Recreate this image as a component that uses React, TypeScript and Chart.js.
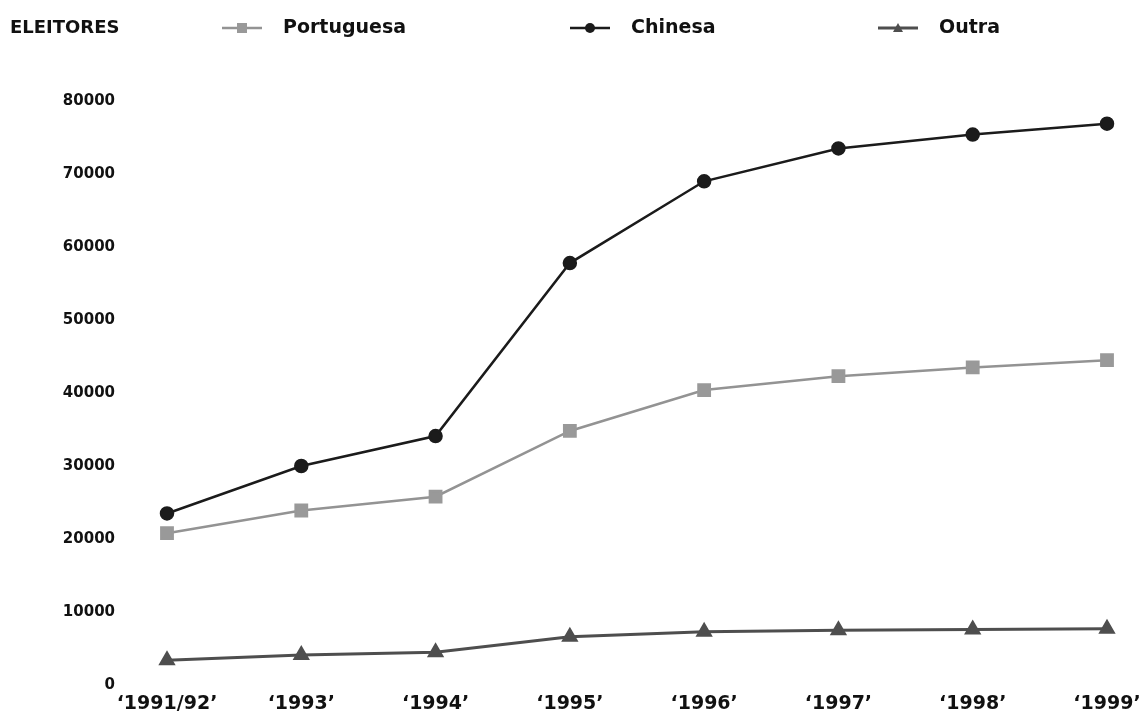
import React, { useEffect, useRef } from "react";
import { Chart, registerables } from "chart.js";

Chart.register(...registerables);

const categories = ["\u20181991/92\u2019", "\u20181993\u2019", "\u20181994\u2019", "\u20181995\u2019", "\u20181996\u2019", "\u20181997\u2019", "\u20181998\u2019", "\u20181999\u2019"];
const portuguesa = [20800, 23900, 25800, 34800, 40400, 42300, 43500, 44500];
const chinesa = [23500, 30000, 34100, 57800, 69000, 73500, 75400, 76900];
const outra = [3400, 4100, 4500, 6600, 7300, 7500, 7600, 7700];
const yTicks = [0, 10000, 20000, 30000, 40000, 50000, 60000, 70000, 80000];
const titleText = "ELEITORES";

const FONT = "'DejaVu Sans', sans-serif";

const legendPlugin = {
  id: "customLegend",
  afterDraw(chart: any) {
    const ctx = chart.ctx;
    ctx.save();
    ctx.fillStyle = "#111";
    ctx.font = `bold 18px ${FONT}`;
    ctx.textBaseline = "middle";
    ctx.textAlign = "left";
    ctx.fillText(titleText, 10, 28);
    const starts = [222, 570, 878];
    chart.data.datasets.forEach((ds: any, i: number) => {
      const x0 = starts[i];
      const y = 28;
      ctx.strokeStyle = ds.borderColor;
      ctx.lineWidth = ds.borderWidth;
      ctx.beginPath();
      ctx.moveTo(x0, y);
      ctx.lineTo(x0 + 40, y);
      ctx.stroke();
      ctx.fillStyle = ds.pointBackgroundColor;
      const cx = x0 + 20;
      const r = 5;
      ctx.beginPath();
      if (ds.pointStyle === "rect") {
        ctx.rect(cx - r, y - r, 2 * r, 2 * r);
      } else if (ds.pointStyle === "triangle") {
        ctx.moveTo(cx, y - r);
        ctx.lineTo(cx + r, y + r * 0.8);
        ctx.lineTo(cx - r, y + r * 0.8);
        ctx.closePath();
      } else {
        ctx.arc(cx, y, r, 0, Math.PI * 2);
      }
      ctx.fill();
      ctx.fillStyle = "#111";
      ctx.font = `bold 19px ${FONT}`;
      ctx.fillText(ds.label, x0 + 61, y);
    });
    ctx.restore();
  },
};

export default function App() {
  const ref = useRef<HTMLCanvasElement>(null);
  useEffect(() => {
    document.body.style.margin = "0";
    const chart = new Chart(ref.current!, {
      type: "line",
      data: {
        labels: categories,
        datasets: [
          {
            label: "Portuguesa",
            data: portuguesa,
            borderColor: "#939393",
            backgroundColor: "#999999",
            pointBackgroundColor: "#999999",
            pointBorderColor: "#999999",
            borderWidth: 2.5,
            pointStyle: "rect",
            pointRadius: 8,
            tension: 0,
          },
          {
            label: "Chinesa",
            data: chinesa,
            borderColor: "#1b1b1b",
            backgroundColor: "#1b1b1b",
            pointBackgroundColor: "#1b1b1b",
            pointBorderColor: "#1b1b1b",
            borderWidth: 2.5,
            pointStyle: "circle",
            pointRadius: 6,
            tension: 0,
          },
          {
            label: "Outra",
            data: outra,
            borderColor: "#4e4e4e",
            backgroundColor: "#4e4e4e",
            pointBackgroundColor: "#4e4e4e",
            pointBorderColor: "#4e4e4e",
            borderWidth: 3,
            pointStyle: "triangle",
            pointRadius: 7,
            tension: 0,
          },
        ],
      },
      options: {
        responsive: false,
        animation: false,
        layout: { padding: { top: 101, right: 35, left: 0, bottom: 0 }, autoPadding: false },
        plugins: { legend: { display: false }, tooltip: { enabled: false }, title: { display: false } },
        scales: {
          x: {
            offset: false,
            grid: { display: false, drawTicks: false },
            border: { display: false },
            ticks: { color: "#111", font: { family: FONT, size: 19, weight: "bold" }, padding: 8, maxRotation: 0, autoSkip: false },
            afterFit(scale: any) {
              scale.height = 35;
              scale.paddingLeft = 0;
              scale.paddingRight = 0;
            },
          },
          y: {
            min: 0,
            max: 80000,
            grid: { display: false, drawTicks: false },
            border: { display: false },
            afterBuildTicks(scale: any) { scale.ticks = yTicks.map((v) => ({ value: v })); },
            ticks: { color: "#111", font: { family: FONT, size: 15, weight: "bold" }, padding: 52, callback: (v: any) => String(v) },
            afterFit(scale: any) {
              scale.width = 167;
              scale.paddingTop = 0;
              scale.paddingBottom = 0;
            },
          },
        },
      },
      plugins: [legendPlugin],
    });
    return () => chart.destroy();
  }, []);
  return (
    <div style={{ position: "absolute", left: 0, top: 0, width: 1142, height: 720 }}>
      <canvas ref={ref} width={1142} height={720} />
    </div>
  );
}
